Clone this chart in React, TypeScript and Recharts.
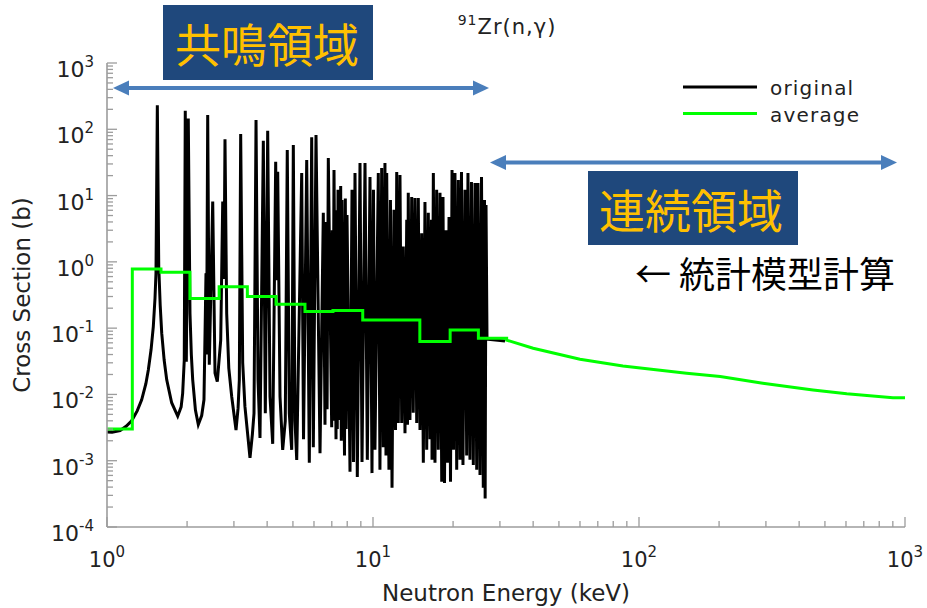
import React from 'react';
import { LineChart, Line, XAxis, YAxis } from 'recharts';

const CHART_W = 927;
const CHART_H = 608;

// Pointwise 91Zr(n,γ) cross section: [neutron energy (keV), cross section (b)]
const originalIsolated: [number, number][] = [
  [1.0, 0.00272], [1.045, 0.0027], [1.12, 0.00285], [1.18, 0.0033], [1.238, 0.004],
  [1.3, 0.0057], [1.35, 0.0083], [1.4, 0.0145], [1.43, 0.0234], [1.465, 0.048],
  [1.493, 0.105], [1.515, 0.28], [1.528, 0.67], [1.546, 230], [1.565, 0.85],
  [1.585, 0.22], [1.606, 0.084], [1.64, 0.033], [1.677, 0.0166], [1.75, 0.0075],
  [1.844, 0.0047], [1.9, 0.0065], [1.925, 0.0104], [1.952, 0.033],
  [1.969, 191], [1.987, 0.031], [2.021, 146], [2.051, 0.168], [2.075, 0.04], [2.1, 0.0166],
  [2.15, 0.0058], [2.204, 0.0035], [2.27, 0.0048], [2.315, 0.0083], [2.356, 0.67], [2.368, 0.04], [2.391, 164],
  [2.424, 0.028], [2.497, 8.1], [2.547, 0.021], [2.598, 0.0156], [2.676, 0.066],
  [2.723, 8.1], [2.754, 0.55], [2.777, 71], [2.818, 0.168], [2.87, 0.025], [2.943, 0.0093],
  [3.055, 0.0029], [3.11, 0.0062], [3.144, 0.0166], [3.181, 85], [3.237, 0.03], [3.3, 0.0066],
  [3.448, 0.0011], [3.52, 0.0025], [3.57, 0.0052], [3.633, 138], [3.696, 0.0166], [3.76, 0.0022],
  [3.87, 67], [3.937, 0.0052], [4.019, 95], [4.1, 0.0093], [4.197, 0.0018],
  [4.307, 32.5], [4.345, 0.53], [4.383, 22.9], [4.471, 0.0093], [4.576, 0.00146],
  [4.68, 0.004], [4.761, 48.7], [4.845, 0.0052], [4.948, 0.00146], [5.017, 58], [5.09, 0.004], [5.167, 0.00103],
];

const originalDense: [number, number][] = [
  [5.395, 21.9], [5.48, 0.0021], [5.634, 34.4], [5.762, 0.00093], [5.882, 76],
  [5.965, 0.0016], [6.106, 82], [6.321, 0.0013], [6.504, 5.5], [6.6, 0.0035],
  [6.66, 4], [6.72, 0.006], [6.792, 37], [6.994, 0.0032], [7.03, 3], [7.07, 0.004],
  [7.135, 24.3], [7.26, 0.0021], [7.3, 6], [7.34, 0.003], [7.387, 12.2],
  [7.515, 0.0041], [7.56, 14], [7.6, 0.002], [7.647, 8.6], [7.814, 0.0012],
  [7.87, 9], [7.93, 0.003], [7.986, 5.1], [8.195, 0.00068],
  [8.339, 12.2], [8.447, 0.00096], [8.557, 21.9], [8.73, 0.00057], [8.936, 31],
  [9.093, 0.00096], [9.331, 31], [9.52, 0.00103], [9.743, 19.1], [9.913, 0.00065],
  [10.04, 12.2], [10.17, 0.00146], [10.47, 21.9], [10.62, 0.00073], [10.78, 26.1],
  [10.93, 0.0016], [11.09, 31], [11.19, 0.0012], [11.26, 21.9], [11.48, 0.00073],
  [11.63, 8.6], [11.79, 0.00039], [11.99, 6.1], [12.15, 0.0029], [12.28, 22.7],
  [12.45, 0.0037], [12.63, 20.5], [12.82, 0.0037], [13.0, 1.7], [13.19, 0.0026],
  [13.39, 4.3], [13.48, 0.0035], [13.57, 11], [13.77, 0.0041], [13.98, 9.5],
  [14.17, 0.0053], [14.38, 9.2], [14.6, 0.0037], [14.8, 9.2], [15.02, 0.0029],
  [15.24, 2.7], [15.46, 0.00093], [15.68, 8.0], [15.92, 0.00146], [16.14, 5.5],
  [16.38, 0.0021], [16.59, 4.3], [16.67, 0.00103], [16.86, 21.9], [17.1, 0.00093],
  [17.35, 12.2], [17.6, 0.00146], [17.86, 11], [18.13, 0.00048], [18.33, 9.5],
  [18.57, 0.00046], [18.81, 3.0], [19.06, 0.00093], [19.31, 4.75], [19.56, 0.00048],
  [19.82, 24.3], [20.07, 0.00146], [20.33, 21.9], [20.64, 0.00073], [20.93, 17.2],
  [21.23, 0.00103], [21.51, 22.7], [21.79, 0.00086], [22.17, 12.2], [22.5, 0.0012],
  [22.75, 21.9], [23.15, 0.00103], [23.45, 16], [23.83, 0.00086], [24.18, 15.5],
  [24.54, 0.00073], [24.81, 15.5], [25.25, 0.00061], [25.58, 19.1], [25.98, 0.00039],
  [26.25, 8.6], [26.4, 0.00027], [26.6, 7.2],
];

const originalSmooth: [number, number][] = [[26.83, 0.068], [31.35, 0.064]];

// Group-averaged cross section: bin edges (keV) and bin values (b)
const averageBinEdges = [1, 1.245, 1.596, 2.05, 2.64, 3.37, 4.32, 5.55, 7.07, 9.15, 15.0, 19.5, 24.9, 31.8];
const averageBinValues = [0.003, 0.78, 0.7, 0.28, 0.42, 0.3, 0.23, 0.178, 0.184, 0.133, 0.063, 0.094, 0.0705];
// Statistical-model part above the resolved region
const averageTailEnergy = [31.8, 40, 60, 87, 151, 202, 292, 451, 604, 901, 1000];
const averageTailSigma = [0.066, 0.0498, 0.034, 0.0269, 0.0209, 0.0186, 0.0148, 0.0117, 0.0102, 0.0089, 0.0089];

const X_DECADES = [1, 10, 100, 1000];
const Y_DECADES = [1e-4, 1e-3, 1e-2, 1e-1, 1, 10, 100, 1000];
const MINOR_STEPS = [1, 2, 3, 4, 5, 6, 7, 8, 9];

const SERIES = [
  { key: 'original', name: 'original', color: '#000000' },
  { key: 'average', name: 'average', color: '#00ff00' },
];

const originalData = [...originalIsolated, ...originalDense, ...originalSmooth].map(([e, s]) => ({ e, s }));

const averageData: { e: number; s: number }[] = [];
averageBinValues.forEach((s, i) => {
  averageData.push({ e: averageBinEdges[i], s });
  averageData.push({ e: averageBinEdges[i + 1], s });
});
averageTailEnergy.forEach((e, i) => averageData.push({ e, s: averageTailSigma[i] }));

const withMinors = (decades: number[]) =>
  decades.flatMap((d, i) => (i === decades.length - 1 ? [d] : MINOR_STEPS.map((m) => m * d)));

const xTicks = withMinors(X_DECADES);
const yTicks = withMinors(Y_DECADES);

const AXIS = '#9c9c9c';
const TEXT = '#222222';
const FONT = "'DejaVu Sans', sans-serif";
const CJK = "'Noto Sans CJK JP', sans-serif";
const MAJOR_LEN = 10;
const MINOR_LEN = 6;

function decadeExp(v: number): number | null {
  const l = Math.log10(v);
  const r = Math.round(l);
  return Math.abs(l - r) < 1e-6 ? r : null;
}

const BottomTick = ({ x, y, payload }: any) => {
  const exp = decadeExp(payload.value);
  return (
    <g>
      <line x1={x} x2={x} y1={y} y2={y - (exp !== null ? MAJOR_LEN : MINOR_LEN)} stroke={AXIS} strokeWidth={1.3} />
      {exp !== null && (
        <text x={x} y={y + 40} textAnchor="middle" fontFamily={FONT} fontSize={21} fill={TEXT}>
          10<tspan dy={-10} fontSize={15}>{exp}</tspan>
        </text>
      )}
    </g>
  );
};

const TopTick = ({ x, y, payload }: any) => {
  const exp = decadeExp(payload.value);
  return <line x1={x} x2={x} y1={y} y2={y + (exp !== null ? MAJOR_LEN : MINOR_LEN)} stroke={AXIS} strokeWidth={1.3} />;
};

const LeftTick = ({ x, y, payload }: any) => {
  const exp = decadeExp(payload.value);
  return (
    <g>
      <line x1={x} x2={x + (exp !== null ? MAJOR_LEN : MINOR_LEN)} y1={y} y2={y} stroke={AXIS} strokeWidth={1.3} />
      {exp !== null && (
        <text x={x - 13} y={y + 14} textAnchor="end" fontFamily={FONT} fontSize={22} fill={TEXT}>
          10<tspan dy={-10} fontSize={15}>{exp}</tspan>
        </text>
      )}
    </g>
  );
};

const RightTick = ({ x, y, payload }: any) => {
  const exp = decadeExp(payload.value);
  return <line x1={x} x2={x - (exp !== null ? MAJOR_LEN : MINOR_LEN)} y1={y} y2={y} stroke={AXIS} strokeWidth={1.3} />;
};

const ARROW = '#4a7ebb';

const DoubleArrow = ({ x1, x2, y }: { x1: number; x2: number; y: number }) => (
  <g>
    <line x1={x1 + 12} x2={x2 - 12} y1={y} y2={y} stroke={ARROW} strokeWidth={4} />
    <polygon points={`${x1},${y} ${x1 + 16},${y - 7.5} ${x1 + 16},${y + 7.5}`} fill={ARROW} />
    <polygon points={`${x2},${y} ${x2 - 16},${y - 7.5} ${x2 - 16},${y + 7.5}`} fill={ARROW} />
  </g>
);

const RegionLabel = ({ x, y, w, h, text, tx, ty }: any) => (
  <g>
    <rect x={x} y={y} width={w} height={h} fill="#1f487c" />
    <text x={tx} y={ty} textAnchor="middle" dominantBaseline="central" fontFamily={CJK} fontSize={46} fill="#ffc000">
      {text}
    </text>
  </g>
);

export default function App() {
  return (
    <div style={{ position: 'absolute', left: 0, top: 0, width: CHART_W, height: CHART_H, background: '#ffffff' }}>
      <LineChart width={CHART_W} height={CHART_H} margin={{ top: 63, right: 22, bottom: 0, left: 0 }}>
        <XAxis
          xAxisId="bottom"
          dataKey="e"
          type="number"
          scale="log"
          domain={[1, 1000]}
          allowDataOverflow
          ticks={xTicks}
          interval={0}
          tickSize={0}
          tickMargin={0}
          tick={<BottomTick />}
          axisLine={{ stroke: AXIS, strokeWidth: 1.6 }}
          tickLine={false}
          height={81}
        />
        <XAxis
          xAxisId="top"
          orientation="top"
          dataKey="e"
          type="number"
          scale="log"
          domain={[1, 1000]}
          allowDataOverflow
          ticks={xTicks}
          interval={0}
          tickSize={0}
          tickMargin={0}
          tick={<TopTick />}
          axisLine={{ stroke: AXIS, strokeWidth: 1.6 }}
          tickLine={false}
          height={0}
        />
        <YAxis
          yAxisId="left"
          type="number"
          scale="log"
          domain={[1e-4, 1e3]}
          allowDataOverflow
          ticks={yTicks}
          interval={0}
          tickSize={0}
          tickMargin={0}
          tick={<LeftTick />}
          axisLine={{ stroke: AXIS, strokeWidth: 1.6 }}
          tickLine={false}
          width={107}
        />
        <YAxis
          yAxisId="right"
          orientation="right"
          type="number"
          scale="log"
          domain={[1e-4, 1e3]}
          allowDataOverflow
          ticks={yTicks}
          interval={0}
          tickSize={0}
          tickMargin={0}
          tick={<RightTick />}
          axisLine={{ stroke: AXIS, strokeWidth: 1.6 }}
          tickLine={false}
          width={0}
        />
        <Line
          xAxisId="bottom"
          yAxisId="left"
          data={originalData}
          dataKey="s"
          name={SERIES[0].name}
          stroke={SERIES[0].color}
          strokeWidth={3}
          type="linear"
          dot={false}
          activeDot={false}
          isAnimationActive={false}
        />
        <Line
          xAxisId="bottom"
          yAxisId="left"
          data={averageData}
          dataKey="s"
          name={SERIES[1].name}
          stroke={SERIES[1].color}
          strokeWidth={3}
          type="linear"
          dot={false}
          activeDot={false}
          isAnimationActive={false}
        />
      </LineChart>

      <svg
        width={CHART_W}
        height={CHART_H}
        style={{ position: 'absolute', left: 0, top: 0, pointerEvents: 'none' }}
      >
        <text x={507} y={34} textAnchor="middle" fontFamily={FONT} fontSize={21} fill={TEXT} letterSpacing={1}>
          <tspan fontSize={14} dy={-9}>91</tspan>
          <tspan dy={9}>Zr(n,γ)</tspan>
        </text>

        <text x={506} y={601} textAnchor="middle" fontFamily={FONT} fontSize={23} fill={TEXT}>
          Neutron Energy (keV)
        </text>
        <text
          x={22}
          y={295}
          textAnchor="middle"
          dominantBaseline="central"
          fontFamily={FONT}
          fontSize={23}
          fill={TEXT}
          transform="rotate(-90 22 295)"
        >
          Cross Section (b)
        </text>

        {SERIES.map((s, i) => (
          <g key={s.key}>
            <line x1={683} x2={757} y1={87 + i * 26.5} y2={87 + i * 26.5} stroke={s.color} strokeWidth={3} />
            <text x={770} y={95 + i * 26.5} fontFamily={FONT} fontSize={20} fill={TEXT} letterSpacing={1.2}>
              {s.name}
            </text>
          </g>
        ))}

        <DoubleArrow x1={113} x2={489} y={88} />
        <DoubleArrow x1={490} x2={897} y={162.5} />

        <RegionLabel x={163} y={5} w={210} h={75} text="共鳴領域" tx={267} ty={42} />
        <RegionLabel x={588} y={171} w={210} h={74} text="連続領域" tx={691} ty={208} />

        <text x={635} y={272} dominantBaseline="central" fontFamily={CJK} fontSize={36} fill="#000000">
          ← 統計模型計算
        </text>
      </svg>
    </div>
  );
}
